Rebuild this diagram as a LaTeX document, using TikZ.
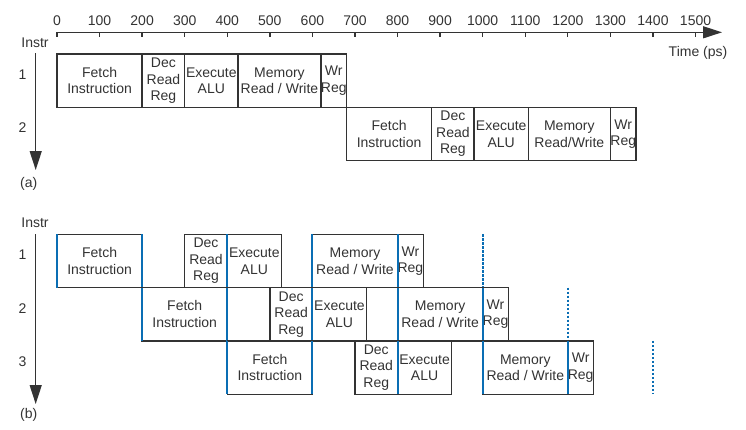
\documentclass[tikz,border=0pt]{standalone}
\usepackage{fontspec}
\setmainfont{Liberation Sans}
\usetikzlibrary{arrows.meta}
\definecolor{ink}{HTML}{333333}
\definecolor{pblue}{HTML}{0A6EB4}
\newcommand{\stg}[5]{\pgfmathsetmacro{\stgw}{((#3)-(#2))*0.4257}%
  \pgfmathsetmacro{\stgx}{57+0.4257*(#2)}%
  \node[stagebox, minimum width=\stgw pt, anchor=north west] (#1) at (\stgx,#4) {#5};}
\newcommand{\bline}[4]{\pgfmathsetmacro{\blx}{57+0.4257*(#1)}%
  \pgfmathsetmacro{\bly}{(#3)}%
  \draw[#4] (\blx,#2) -- (\blx,\bly);}
\tikzset{
  stagebox/.style={draw=ink, line width=1.4pt, minimum height=53.3pt, inner sep=0pt,
    outer sep=0pt, align=center, text=ink, font=\fontsize{14}{16.6}\selectfont},
  lbl/.style={text=ink, inner sep=0pt, font=\fontsize{14}{16.6}\selectfont},
  axisline/.style={draw=ink, line width=1.3pt},
  bsolid/.style={draw=pblue, line width=2pt},
  bdot/.style={draw=pblue, line width=2pt, dash pattern=on 2.3pt off 1.7pt},
  tip/.style={-{Triangle[length=19pt,width=12pt]}}
}
\begin{document}
\begin{tikzpicture}[x=1pt,y=-1pt]
\useasboundingbox (0,0) rectangle (746,429);
% time axis
\coordinate (ax0) at (57,32.3);
\coordinate (axE) at (722,32.3);
\draw[axisline,tip] (ax0) -- (axE);
\foreach \i [evaluate=\i as \tv using int(\i*100)] in {0,...,15}{
  \draw[axisline] ({57+42.57*\i},32.3) -- ++(0,4.6);
  \node[lbl] (tk\i) at ({57+42.57*\i},21) {\tv};
}
\node[lbl] (tlabel) at (698,53) {Time (ps)};
% (a)
\node[lbl] (instrA) at (35,42.5) {Instr};
\coordinate (vaA0) at (35.7,53.3);
\coordinate (vaA1) at (35.7,170);
\draw[axisline,tip] (vaA0) -- (vaA1);
\node[lbl] (rA1) at (22.5,74.5) {1};
\node[lbl] (rA2) at (22.5,127.8) {2};
\node[lbl] (capA) at (28.7,183.5) {(a)};
\stg{a1f}{0}{200}{54}{Fetch\\Instruction}
\stg{a1d}{200}{300}{54}{Dec\\Read\\Reg}
\stg{a1e}{300}{425}{54}{Execute\\ALU}
\stg{a1m}{425}{620}{54}{Memory\\Read / Write}
\stg{a1w}{620}{680}{54}{Wr\\Reg}
\stg{a2f}{680}{880}{107.3}{Fetch\\Instruction}
\stg{a2d}{880}{980}{107.3}{Dec\\Read\\Reg}
\stg{a2e}{980}{1107}{107.3}{Execute\\ALU}
\stg{a2m}{1107}{1300}{107.3}{Memory\\Read/Write}
\stg{a2w}{1300}{1360}{107.3}{Wr\\Reg}
% (b)
\node[lbl] (instrB) at (35,222.5) {Instr};
\coordinate (vaB0) at (35.7,234.3);
\coordinate (vaB1) at (35.7,404);
\draw[axisline,tip] (vaB0) -- (vaB1);
\node[lbl] (rB1) at (22.5,255) {1};
\node[lbl] (rB2) at (22.5,308.3) {2};
\node[lbl] (rB3) at (22.5,361.7) {3};
\node[lbl] (capB) at (28.7,415) {(b)};
\foreach \r/\y in {1/234.3,2/287.6,3/340.9}{
  \pgfmathsetmacro{\o}{(\r-1)*200}
  \stg{b\r f}{\o}{\o+200}{\y}{Fetch\\Instruction}
  \stg{b\r d}{\o+300}{\o+400}{\y}{Dec\\Read\\Reg}
  \stg{b\r e}{\o+400}{\o+527}{\y}{Execute\\ALU}
  \stg{b\r m}{\o+600}{\o+800}{\y}{Memory\\Read / Write}
  \stg{b\r w}{\o+800}{\o+860}{\y}{Wr\\Reg}
  \foreach \k in {0,200,400,600,800}{
    \bline{\o+\k}{\y}{\y+53.3}{bsolid}
  }
  \bline{\o+1000}{\y}{\y+53.3}{bdot}
}
\end{tikzpicture}
\end{document}
